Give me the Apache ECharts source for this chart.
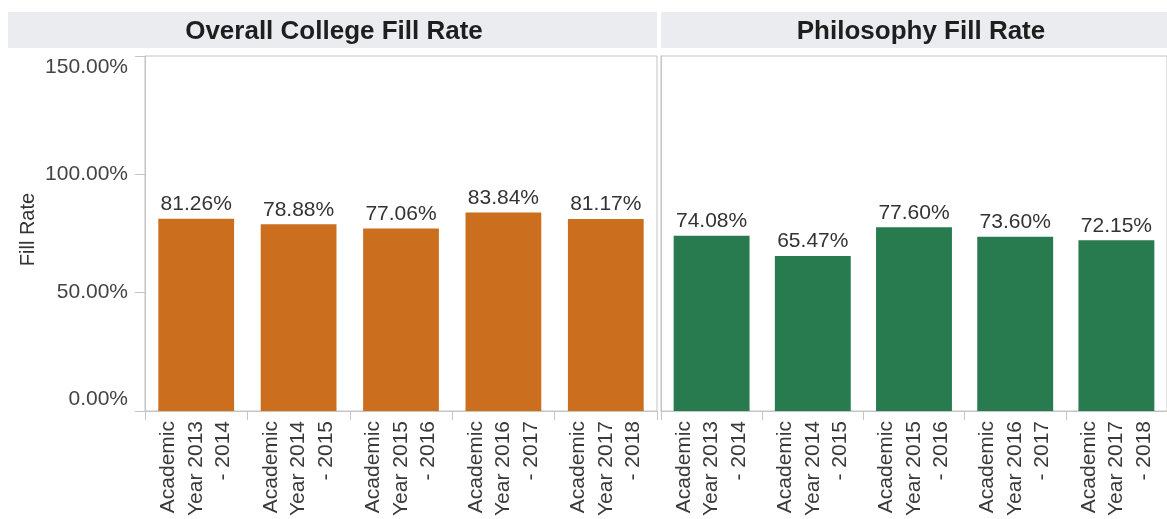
<!DOCTYPE html>
<html>
<head>
<meta charset="utf-8">
<script src="https://cdn.jsdelivr.net/npm/echarts@6/dist/echarts.min.js"></script>
<style>
html,body{margin:0;padding:0;background:#fff;}
#c{width:1167px;height:519px;}
</style>
</head>
<body>
<div id="c"></div>
<script>
const categories = ['Academic Year 2013 - 2014','Academic Year 2014 - 2015','Academic Year 2015 - 2016','Academic Year 2016 - 2017','Academic Year 2017 - 2018'];
const collegeFillRate = [81.26, 78.88, 77.06, 83.84, 81.17];
const philosophyFillRate = [74.08, 65.47, 77.60, 73.60, 72.15];
const panelTitles = ['Overall College Fill Rate', 'Philosophy Fill Rate'];
const yAxisName = 'Fill Rate';

const FONT = '"Liberation Sans", Arial, Helvetica, sans-serif';
const chart = echarts.init(document.getElementById('c'), null, {renderer:'canvas'});

function catLabel(v){
  const m = v.match(/^(Academic) (Year \d{4}) (- \d{4})$/);
  return m ? m[1] + '\n' + m[2] + '\n' + m[3] : v;
}
function pct(v){ return (v*100).toFixed(2) + '%'; }
const axisLineColor = '#c4c4c4';

function xAxis(gi){
  return {
    type:'category', gridIndex:gi, data:categories,
    axisLine:{show:true, lineStyle:{color:axisLineColor}},
    axisTick:{show:true, length:9, lineStyle:{color:axisLineColor}},
    axisLabel:{rotate:90, margin:10, fontSize:21, lineHeight:27.5, color:'#3a3a3a', fontFamily:FONT, formatter:catLabel, interval:0},
    splitLine:{show:false}
  };
}

const option = {
  animation:false,
  backgroundColor:'#ffffff',
  graphic:[
    {type:'rect', z:-10, shape:{x:8, y:12, width:649, height:36}, style:{fill:'#ebecef'}},
    {type:'rect', z:-10, shape:{x:661, y:12, width:520, height:36}, style:{fill:'#ebecef'}},
    {type:'text', x:334, y:31.5, style:{text:panelTitles[0], fill:'#1e1e1e', font:'bold 26px ' + FONT, textAlign:'center', textVerticalAlign:'middle'}},
    {type:'text', x:921, y:31.5, style:{text:panelTitles[1], fill:'#1e1e1e', font:'bold 26px ' + FONT, textAlign:'center', textVerticalAlign:'middle'}}
  ],
  grid:[
    {left:145, right:1167-657, top:56, bottom:108, show:true, borderColor:axisLineColor, borderWidth:1, backgroundColor:'transparent'},
    {left:661, right:1167-1178, top:56, bottom:108, show:true, borderColor:axisLineColor, borderWidth:1, backgroundColor:'transparent'}
  ],
  xAxis:[xAxis(0), xAxis(1)],
  yAxis:[
    {type:'value', gridIndex:0, min:0, max:1.5, interval:0.5,
     name:yAxisName, nameLocation:'middle', nameGap:107, nameRotate:90,
     nameTextStyle:{fontSize:20, color:'#333', fontFamily:FONT, padding:[0,0,0,8]},
     axisLine:{show:true, lineStyle:{color:axisLineColor}},
     axisTick:{show:true, length:10, lineStyle:{color:axisLineColor}},
     axisLabel:{margin:17, fontSize:21, lineHeight:23, color:'#444', fontFamily:FONT,
       formatter:v => v === 0 ? pct(v) + '\n ' : (v >= 1.5 ? ' \n' + pct(v) : pct(v))},
     splitLine:{show:false}},
    {type:'value', gridIndex:1, min:0, max:1.5, interval:0.5,
     axisLine:{show:true, lineStyle:{color:axisLineColor}},
     axisTick:{show:false}, axisLabel:{show:false}, splitLine:{show:false}}
  ],
  series:[
    {type:'bar', xAxisIndex:0, yAxisIndex:0, barCategoryGap:'26%',
     data:collegeFillRate.map(v => v/100),
     itemStyle:{color:'#cb6f1f'},
     label:{show:true, position:'top', distance:4, fontSize:21, color:'#333', fontFamily:FONT,
       formatter:p => pct(p.value)}},
    {type:'bar', xAxisIndex:1, yAxisIndex:1, barCategoryGap:'25%',
     data:philosophyFillRate.map(v => v/100),
     itemStyle:{color:'#277b4e'},
     label:{show:true, position:'top', distance:4, fontSize:21, color:'#333', fontFamily:FONT,
       formatter:p => pct(p.value)}}
  ]
};
chart.setOption(option);
</script>
</body>
</html>
